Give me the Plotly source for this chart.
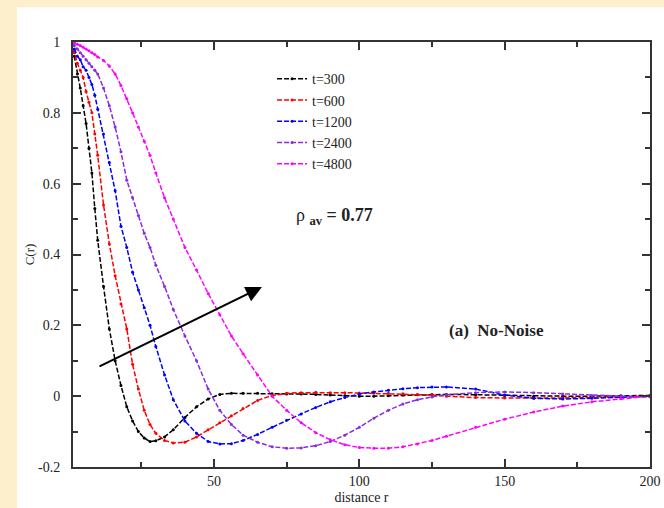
import plotly.graph_objects as go

# distance r (sample points)
r = [1, 2, 3, 4, 5, 6, 7, 8, 9, 10, 12, 14, 16, 18, 20, 22, 24, 26, 28, 30,
     33, 36, 40, 44, 48, 52, 56, 60, 65, 70, 75, 80, 85, 90, 95, 100, 105, 110,
     115, 120, 125, 130, 140, 150, 160, 170, 180, 190, 200]

c_t300 = [1.0, 0.96, 0.91, 0.87, 0.82, 0.77, 0.70, 0.63, 0.53, 0.44, 0.31, 0.19, 0.10, 0.03,
          -0.03, -0.07, -0.10, -0.118, -0.128, -0.126, -0.115, -0.095, -0.06, -0.03, -0.008,
          0.005, 0.008, 0.008, 0.008, 0.007, 0.006, 0.006, 0.005, 0.003, 0.001, 0.0, 0.0,
          0.001, 0.003, 0.004, 0.005, 0.005, 0.004, 0.002, 0.0, 0.0, 0.0, 0.001, 0.002]

c_t600 = [1.0, 0.97, 0.94, 0.92, 0.90, 0.86, 0.83, 0.80, 0.74, 0.68, 0.54, 0.43, 0.34, 0.26,
          0.19, 0.09, 0.02, -0.04, -0.08, -0.105, -0.125, -0.132, -0.13, -0.115, -0.095,
          -0.075, -0.055, -0.035, -0.012, 0.002, 0.008, 0.01, 0.011, 0.01, 0.01, 0.009,
          0.009, 0.008, 0.007, 0.005, 0.003, 0.0, -0.004, -0.005, -0.006, -0.005, -0.004,
          -0.002, 0.0]

c_t1200 = [1.0, 0.98, 0.96, 0.95, 0.93, 0.92, 0.90, 0.88, 0.85, 0.81, 0.74, 0.66, 0.58, 0.48,
           0.42, 0.35, 0.30, 0.25, 0.20, 0.14, 0.06, -0.01, -0.07, -0.105, -0.128, -0.135,
           -0.134, -0.125, -0.108, -0.088, -0.068, -0.05, -0.032, -0.016, -0.004, 0.006,
           0.012, 0.017, 0.021, 0.024, 0.026, 0.026, 0.02, 0.003, -0.006, -0.008, -0.006,
           -0.003, 0.0]

c_t2400 = [1.0, 0.99, 0.98, 0.97, 0.96, 0.95, 0.94, 0.93, 0.92, 0.91, 0.87, 0.82, 0.76, 0.69,
           0.61, 0.56, 0.51, 0.46, 0.42, 0.37, 0.31, 0.245, 0.17, 0.10, 0.02, -0.04, -0.08,
           -0.11, -0.13, -0.143, -0.147, -0.146, -0.14, -0.128, -0.11, -0.088, -0.062, -0.04,
           -0.022, -0.01, -0.002, 0.004, 0.01, 0.012, 0.01, 0.006, 0.002, 0.0, -0.002]

c_t4800 = [1.0, 0.998, 0.994, 0.99, 0.985, 0.98, 0.975, 0.97, 0.965, 0.958, 0.948, 0.932, 0.91,
           0.877, 0.84, 0.80, 0.76, 0.72, 0.68, 0.63, 0.56, 0.50, 0.42, 0.356, 0.29, 0.23, 0.17,
           0.12, 0.06, 0.0, -0.04, -0.075, -0.103, -0.123, -0.137, -0.145, -0.147, -0.147,
           -0.143, -0.135, -0.125, -0.113, -0.088, -0.065, -0.045, -0.028, -0.016, -0.007, 0.0]

series_names = ["t=300", "t=600", "t=1200", "t=2400", "t=4800"]
series_values = [c_t300, c_t600, c_t1200, c_t2400, c_t4800]
series_colors = ["#000000", "#ff0000", "#0000ff", "#8a2be2", "#ff00ff"]

x_ticks = [50, 100, 150, 200]
y_ticks = [-0.2, 0, 0.2, 0.4, 0.6, 0.8, 1]
y_ticktext = ["-0.2", "0", "0.2", "0.4", "0.6", "0.8", "1"]

arrow_tail = (10.1, 0.082)
arrow_head = (66.5, 0.308)

FONT = "Liberation Serif, Times New Roman, serif"

fig = go.Figure()
for name, vals, col in zip(series_names, series_values, series_colors):
    fig.add_trace(go.Scatter(
        x=r, y=vals, name=name, mode="lines+markers",
        line=dict(color=col, width=1.5, dash="5px,2px"),
        marker=dict(color=col, size=3, symbol="circle"),
    ))

# white panel over cream page
fig.add_shape(type="rect", xref="paper", yref="paper",
              x0=-0.097, x1=1.05, y0=-0.12, y1=1.082,
              fillcolor="white", line=dict(width=0), layer="below")

fig.add_annotation(x=arrow_head[0], y=arrow_head[1], ax=arrow_tail[0], ay=arrow_tail[1],
                   xref="x", yref="y", axref="x", ayref="y", text="",
                   showarrow=True, arrowhead=2, arrowsize=1.6, arrowwidth=2,
                   arrowcolor="black")

fig.add_annotation(x=77.5, y=0.506, xref="x", yref="y", xanchor="left", yanchor="middle",
                   text="ρ <sub><b>av</b></sub><b> = 0.77</b>", showarrow=False,
                   font=dict(family=FONT, size=18, color="#222"))
fig.add_annotation(x=130, y=0.186, xref="x", yref="y", xanchor="left", yanchor="middle",
                   text="<b>(a)  No-Noise</b>", showarrow=False,
                   font=dict(family=FONT, size=17, color="#222"))

axis_common = dict(showline=True, linecolor="#333", linewidth=2, mirror="ticks",
                   ticks="inside", ticklen=8, tickwidth=1.5, tickcolor="#333",
                   showgrid=False, zeroline=False, automargin=False,
                   tickfont=dict(family=FONT, size=14, color="#222"))

fig.update_xaxes(range=[1.5, 200], tickvals=x_ticks,
                 minor=dict(dtick=25, tick0=0, ticks="inside", ticklen=5, tickcolor="#333"),
                 title=dict(text="distance r", font=dict(family=FONT, size=14, color="#222"),
                            standoff=4),
                 **axis_common)
fig.update_yaxes(range=[-0.2, 1.0], tickvals=y_ticks, ticktext=y_ticktext,
                 minor=dict(dtick=0.1, tick0=0, ticks="inside", ticklen=5, tickcolor="#333"),
                 ticklabelstandoff=8,
                 title=dict(text="C(r)", font=dict(family=FONT, size=13, color="#222"),
                            standoff=0),
                 **axis_common)

fig.update_layout(
    width=664, height=508,
    margin=dict(l=73, r=14, t=42, b=41),
    paper_bgcolor="#fdefcb", plot_bgcolor="white",
    showlegend=True,
    legend=dict(x=0.345, y=0.95, xanchor="left", yanchor="top",
                bgcolor="rgba(0,0,0,0)", font=dict(family=FONT, size=14, color="#222"),
                tracegroupgap=0, itemwidth=30),
)

fig.write_html("out.html")
